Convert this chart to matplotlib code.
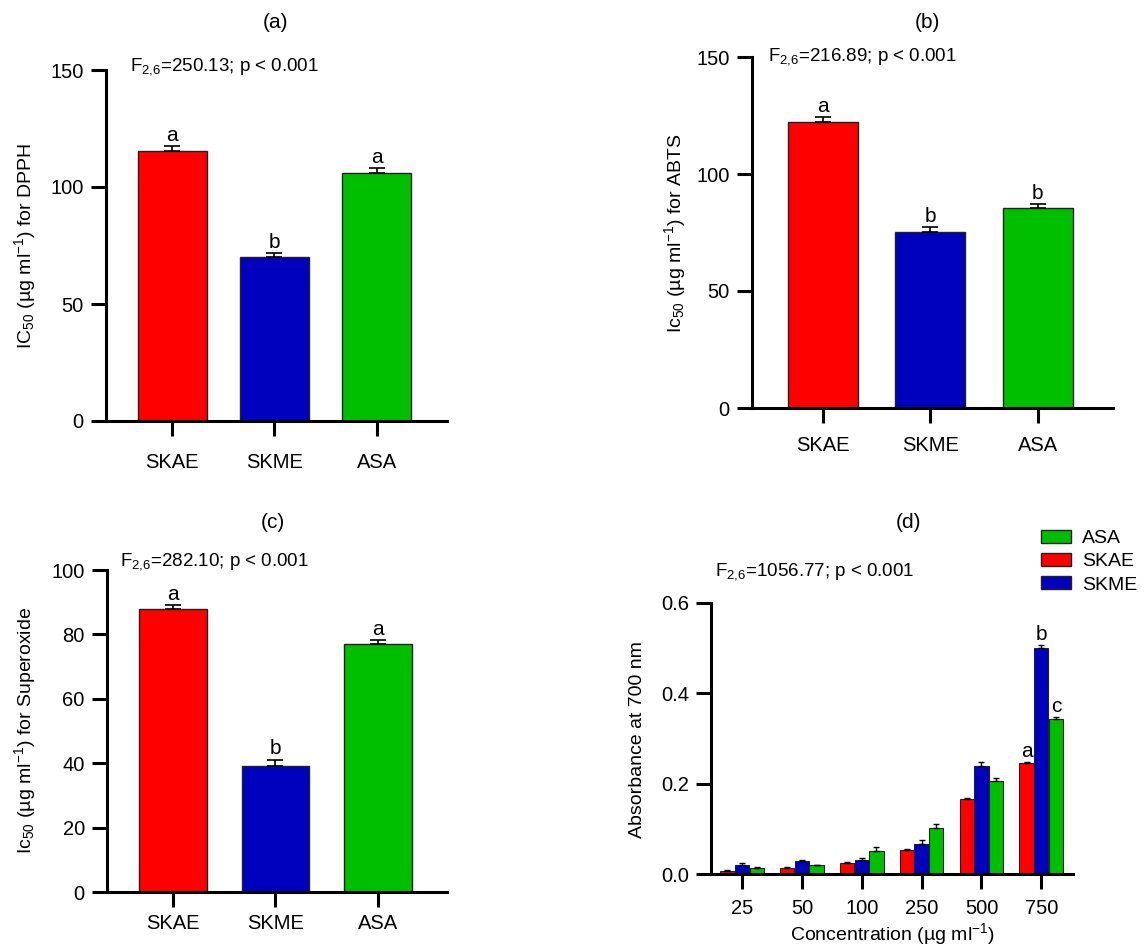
import matplotlib
matplotlib.use('Agg')
import matplotlib.pyplot as plt
import matplotlib.patches as mpatches
from matplotlib import font_manager
import numpy as np

# pick a narrow sans if available (reference looks like Arial Narrow)
names = {f.name for f in font_manager.fontManager.ttflist}
FONT = 'Liberation Sans Narrow' if 'Liberation Sans Narrow' in names else 'Liberation Sans'
plt.rcParams['font.family'] = [FONT, 'DejaVu Sans']
plt.rcParams['mathtext.fontset'] = 'custom'
plt.rcParams['mathtext.rm'] = FONT
plt.rcParams['mathtext.it'] = FONT
plt.rcParams['mathtext.default'] = 'rm'

RED = '#ff0000'
BLUE = '#0000bf'
GREEN = '#00bf00'
W, H = 1145, 951

# ---- data ----
groups = ['SKAE', 'SKME', 'ASA']

dpph_mean = [115.5, 70.2, 105.9]
dpph_err = [2.0, 1.4, 2.2]
dpph_letters = ['a', 'b', 'a']

abts_mean = [122.4, 75.3, 85.6]
abts_err = [1.8, 1.9, 1.5]
abts_letters = ['a', 'b', 'b']

sup_mean = [87.9, 39.1, 77.0]
sup_err = [1.2, 2.0, 1.2]
sup_letters = ['a', 'b', 'a']

conc = ['25', '50', '100', '250', '500', '750']
skae_abs = [0.007, 0.013, 0.025, 0.053, 0.166, 0.245]
skae_err = [0.001, 0.002, 0.002, 0.002, 0.003, 0.003]
skme_abs = [0.021, 0.029, 0.032, 0.067, 0.239, 0.500]
skme_err = [0.004, 0.003, 0.003, 0.009, 0.009, 0.007]
asa_abs = [0.013, 0.020, 0.050, 0.101, 0.206, 0.344]
asa_err = [0.002, 0.001, 0.009, 0.010, 0.007, 0.003]
abs_letters = ['a', 'b', 'c']   # on the 750 group only

TICK_FS = 14.5
LAB_FS = 14

fig = plt.figure(figsize=(W / 100, H / 100), dpi=100)
fig.patch.set_facecolor('white')


def px_axes(left, top, right, bottom):
    return fig.add_axes([left / W, 1 - bottom / H, (right - left) / W, (bottom - top) / H])


def style(ax, xpad=5):
    for s in ['top', 'right']:
        ax.spines[s].set_visible(False)
    for s in ['left', 'bottom']:
        ax.spines[s].set_linewidth(2.2)
    ax.tick_params(width=2.2, length=11, labelsize=TICK_FS, pad=5)
    ax.tick_params(axis='x', pad=xpad)


def bar_panel(ax, means, errs, letters, xlim, width, xpad):
    x = np.arange(len(groups))
    ax.bar(x, means, width=width, color=[RED, BLUE, GREEN], edgecolor='#222222',
           linewidth=1.0, zorder=2)
    ax.errorbar(x, means, yerr=[np.zeros(len(errs)), errs], fmt='none',
                ecolor='black', elinewidth=1.2, capsize=6, capthick=1.2, zorder=3)
    for xi, m, e, l in zip(x, means, errs, letters):
        ax.annotate(l, (xi, m + e), xytext=(0, 1), textcoords='offset points',
                    ha='center', va='bottom', fontsize=15)
    ax.set_xticks(x)
    ax.set_xticklabels(groups, fontsize=15)
    ax.set_xlim(*xlim)
    style(ax, xpad)


def ftext(x, y, s):
    fig.text(x / W, 1 - y / H, s, fontsize=13.5, ha='left', va='center')


def ylab(x, y, s):
    fig.text(x / W, 1 - y / H, s, fontsize=LAB_FS, rotation=90, ha='center', va='center')


def title(x, y, s):
    fig.text(x / W, 1 - y / H, s, fontsize=15, ha='center', va='center')


# (a) DPPH
ax_a = px_axes(106, 70, 447, 421)
bar_panel(ax_a, dpph_mean, dpph_err, dpph_letters, (-0.65, 2.69), 0.67, 12)
ax_a.set_ylim(0, 150)
ax_a.set_yticks([0, 50, 100, 150])
title(275, 22, '(a)')
ftext(130, 67, r'F$_{2{,}6}$=250.13; p < 0.001')
ylab(25, 246, r'IC$_{50}$ (µg ml$^{-1}$) for DPPH')

# (b) ABTS
ax_b = px_axes(752, 57, 1113, 408)
bar_panel(ax_b, abts_mean, abts_err, abts_letters, (-0.66, 2.70), 0.65, 9.5)
ax_b.set_ylim(0, 150)
ax_b.set_yticks([0, 50, 100, 150])
title(927, 22, '(b)')
ftext(768, 57, r'F$_{2{,}6}$=216.89; p < 0.001')
ylab(675, 233, r'Ic$_{50}$ (µg ml$^{-1}$) for ABTS')

# (c) Superoxide
ax_c = px_axes(107, 570, 447, 892)
bar_panel(ax_c, sup_mean, sup_err, sup_letters, (-0.64, 2.67), 0.66, 5)
ax_c.set_ylim(0, 100)
ax_c.set_yticks([0, 20, 40, 60, 80, 100])
title(273, 523, '(c)')
ftext(120, 562, r'F$_{2{,}6}$=282.10; p < 0.001')
ylab(25, 730, r'Ic$_{50}$ (µg ml$^{-1}$) for Superoxide')

# (d) reducing power
ax_d = px_axes(711, 603, 1073, 874)
xc = np.arange(len(conc))
bw = 0.24
off = 0.245
series = [(skae_abs, skae_err, RED, 'SKAE'),
          (skme_abs, skme_err, BLUE, 'SKME'),
          (asa_abs, asa_err, GREEN, 'ASA')]
for k, (vals, errs, col, lab) in enumerate(series):
    xs = xc + (k - 1) * off
    ax_d.bar(xs, vals, width=bw, color=col, edgecolor='#222222', linewidth=0.8, zorder=2)
    ax_d.errorbar(xs, vals, yerr=[np.zeros(len(errs)), errs], fmt='none',
                  ecolor='black', elinewidth=1.0, capsize=2.5, capthick=1.0, zorder=3)
    ax_d.annotate(abs_letters[k], (xs[-1], vals[-1] + errs[-1]), xytext=(0, 1),
                  textcoords='offset points', ha='center', va='bottom', fontsize=15)
ax_d.set_xticks(xc)
ax_d.set_xticklabels(conc, fontsize=15)
ax_d.set_xlim(-0.52, 5.53)
ax_d.set_ylim(0, 0.6)
ax_d.set_yticks([0.0, 0.2, 0.4, 0.6])
ax_d.set_yticklabels(['0.0', '0.2', '0.4', '0.6'])
style(ax_d, 7)
ax_d.set_xlabel('Concentration (µg ml$^{-1}$)', fontsize=LAB_FS, labelpad=2)
title(908, 523, '(d)')
ftext(715, 572, r'F$_{2{,}6}$=1056.77; p < 0.001')
ylab(638, 740, 'Absorbance at 700 nm')

handles = [mpatches.Patch(facecolor=GREEN, edgecolor='#222222', label='ASA'),
           mpatches.Patch(facecolor=RED, edgecolor='#222222', label='SKAE'),
           mpatches.Patch(facecolor=BLUE, edgecolor='#222222', label='SKME')]
fig.legend(handles=handles, loc='upper left', bbox_to_anchor=(1037 / W, 1 - 526 / H),
           frameon=False, fontsize=14, handlelength=1.55, handleheight=0.65,
           labelspacing=0.3, handletextpad=0.55, borderpad=0.2, borderaxespad=0)

fig.savefig('out.png', dpi=100, facecolor='white')
